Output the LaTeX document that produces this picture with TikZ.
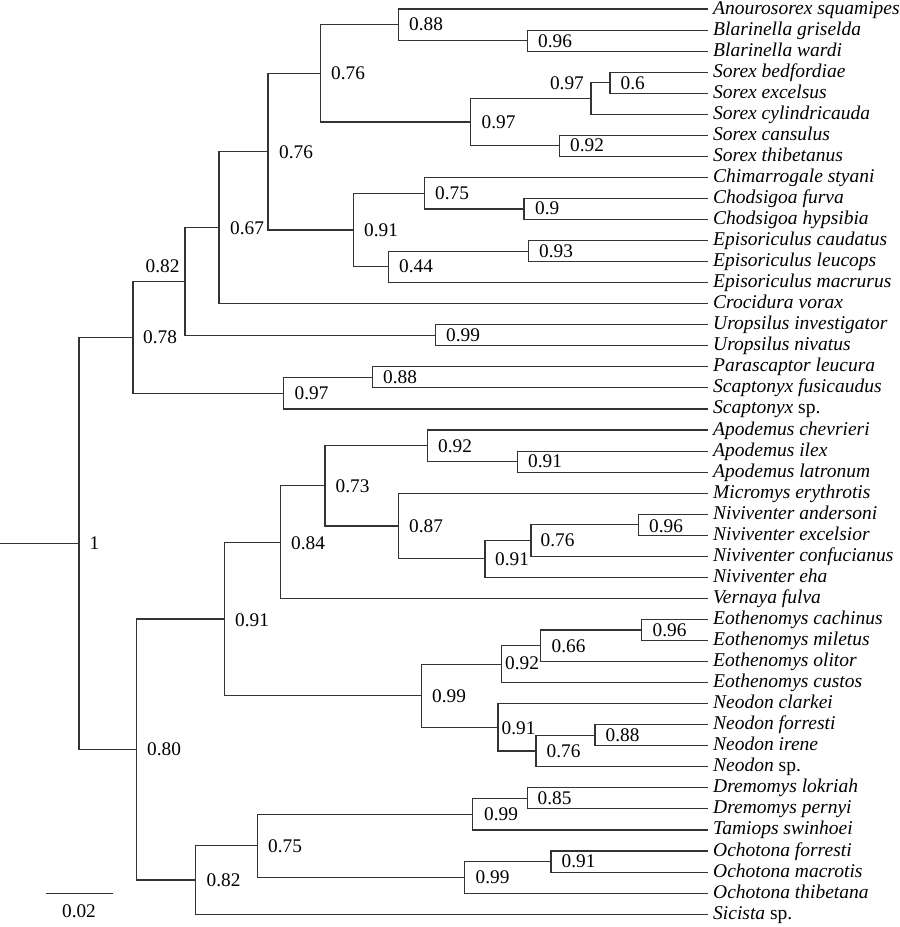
\documentclass[tikz,border=0pt]{standalone}
\usepackage{fontspec}
\setmainfont{Liberation Serif}
\begin{document}
\begin{tikzpicture}[x=1pt,y=-1pt,
  br/.style={line width=1.1pt, draw=black!80},
  lab/.style={anchor=base west, inner sep=0pt, font=\fontsize{19.3}{22}\selectfont},
  leaf/.style={anchor=base west, inner sep=0pt, font=\fontsize{19.5}{22}\selectfont}]
\useasboundingbox (0,0) rectangle (900,927);
% leaves
\foreach \i/\t in {
 0/{\textit{Anourosorex squamipes}},
 1/{\textit{Blarinella griselda}},
 2/{\textit{Blarinella wardi}},
 3/{\textit{Sorex bedfordiae}},
 4/{\textit{Sorex excelsus}},
 5/{\textit{Sorex cylindricauda}},
 6/{\textit{Sorex cansulus}},
 7/{\textit{Sorex thibetanus}},
 8/{\textit{Chimarrogale styani}},
 9/{\textit{Chodsigoa furva}},
 10/{\textit{Chodsigoa hypsibia}},
 11/{\textit{Episoriculus caudatus}},
 12/{\textit{Episoriculus leucops}},
 13/{\textit{Episoriculus macrurus}},
 14/{\textit{Crocidura vorax}},
 15/{\textit{Uropsilus investigator}},
 16/{\textit{Uropsilus nivatus}},
 17/{\textit{Parascaptor leucura}},
 18/{\textit{Scaptonyx fusicaudus}},
 19/{\textit{Scaptonyx} sp.},
 20/{\textit{Apodemus chevrieri}},
 21/{\textit{Apodemus ilex}},
 22/{\textit{Apodemus latronum}},
 23/{\textit{Micromys erythrotis}},
 24/{\textit{Niviventer andersoni}},
 25/{\textit{Niviventer excelsior}},
 26/{\textit{Niviventer confucianus}},
 27/{\textit{Niviventer eha}},
 28/{\textit{Vernaya fulva}},
 29/{\textit{Eothenomys cachinus}},
 30/{\textit{Eothenomys miletus}},
 31/{\textit{Eothenomys olitor}},
 32/{\textit{Eothenomys custos}},
 33/{\textit{Neodon clarkei}},
 34/{\textit{Neodon forresti}},
 35/{\textit{Neodon irene}},
 36/{\textit{Neodon} sp.},
 37/{\textit{Dremomys lokriah}},
 38/{\textit{Dremomys pernyi}},
 39/{\textit{Tamiops swinhoei}},
 40/{\textit{Ochotona forresti}},
 41/{\textit{Ochotona macrotis}},
 42/{\textit{Ochotona thibetana}},
 43/{\textit{Sicista} sp.}}{
  \coordinate (l\i) at (707.7,{9+21.05*\i});
  \node[leaf] (t\i) at (713,{9+21.05*\i+5}) {\t};
}
% internal nodes
\coordinate (stem) at (0,543.4);
\coordinate (root) at (79,543.4);
\coordinate (A) at (133,337.3);
\coordinate (B) at (185,281.5);
\coordinate (C) at (219,227.7);
\coordinate (D) at (268,151.7);
\coordinate (E) at (320.7,73.4);
\coordinate (F) at (398.7,24.8);
\coordinate (G) at (527.7,40.6);
\coordinate (H) at (470.7,122);
\coordinate (I) at (591,98.5);
\coordinate (J) at (610,82.7);
\coordinate (K) at (559.7,145.8);
\coordinate (L) at (353.3,230);
\coordinate (M) at (424.7,193.2);
\coordinate (N) at (524,209);
\coordinate (O) at (388.3,266.9);
\coordinate (P) at (528.7,251.1);
\coordinate (Q) at (435.7,335.3);
\coordinate (R) at (283.7,393.2);
\coordinate (S) at (372.7,377.4);
\coordinate (T) at (136.7,749.5);
\coordinate (U) at (224.3,619);
\coordinate (V) at (280.3,542.2);
\coordinate (W) at (325,485.9);
\coordinate (X) at (427.7,445.8);
\coordinate (Y) at (517.7,461.6);
\coordinate (Z) at (398.7,526);
\coordinate (AA) at (485,558.9);
\coordinate (AB) at (531,540.5);
\coordinate (AC) at (638.7,524.7);
\coordinate (AD) at (421.7,695.8);
\coordinate (AE) at (501.7,664.2);
\coordinate (AF) at (540.7,645.8);
\coordinate (AG) at (641.7,630);
\coordinate (AH) at (498,727.3);
\coordinate (AI) at (536,751);
\coordinate (AJ) at (595,735.2);
\coordinate (AK) at (195.3,880);
\coordinate (AL) at (257.3,845.8);
\coordinate (AM) at (472.7,814.2);
\coordinate (AN) at (527.7,798.4);
\coordinate (AO) at (464.3,877.3);
\coordinate (AP) at (551,861.5);
% branches
\draw[br] (stem) -- (root);
\foreach \p/\c in {root/A, root/T,
  A/B, A/R, B/C, B/Q, C/D, C/l14, D/E, D/L, E/F, E/H,
  F/l0, F/G, G/l1, G/l2, H/I, H/K, I/J, I/l5, J/l3, J/l4, K/l6, K/l7,
  L/M, L/O, M/l8, M/N, N/l9, N/l10, O/P, O/l13, P/l11, P/l12,
  Q/l15, Q/l16, R/S, R/l19, S/l17, S/l18,
  T/U, T/AK, U/V, U/AD, V/W, V/l28, W/X, W/Z, X/l20, X/Y, Y/l21, Y/l22,
  Z/l23, Z/AA, AA/AB, AA/l27, AB/AC, AB/l26, AC/l24, AC/l25,
  AD/AE, AD/AH, AE/AF, AE/l32, AF/AG, AF/l31, AG/l29, AG/l30,
  AH/l33, AH/AI, AI/AJ, AI/l36, AJ/l34, AJ/l35,
  AK/AL, AK/l43, AL/AM, AL/AO, AM/AN, AM/l39, AN/l37, AN/l38,
  AO/AP, AO/l42, AP/l40, AP/l41}{
  \draw[br] (\p) |- (\c);
}
% support values
\node[lab] (broot) at (89.5,549.6) {1};
\node[lab] (bA) at (143,343.5) {0.78};
\node[lab] (bB) at (145.5,272.2) {0.82};
\node[lab] (bC) at (230,234.2) {0.67};
\node[lab] (bD) at (279,158) {0.76};
\node[lab] (bE) at (331,79.5) {0.76};
\node[lab] (bF) at (409,30.6) {0.88};
\node[lab] (bG) at (538,47) {0.96};
\node[lab] (bH) at (481.5,128.2) {0.97};
\node[lab,anchor=base east] (bI) at (584,89) {0.97};
\node[lab] (bJ) at (620.5,89) {0.6};
\node[lab] (bK) at (570,151.5) {0.92};
\node[lab] (bL) at (364,236.2) {0.91};
\node[lab] (bM) at (435,199.2) {0.75};
\node[lab] (bN) at (535,214.5) {0.9};
\node[lab] (bO) at (399,272.5) {0.44};
\node[lab] (bP) at (539,257.3) {0.93};
\node[lab] (bQ) at (446,341.8) {0.99};
\node[lab] (bR) at (294.5,399.4) {0.97};
\node[lab] (bS) at (383,383.6) {0.88};
\node[lab] (bT) at (147,755.5) {0.80};
\node[lab] (bU) at (235,626) {0.91};
\node[lab] (bV) at (291,549) {0.84};
\node[lab] (bW) at (335.5,492.2) {0.73};
\node[lab] (bX) at (438,452) {0.92};
\node[lab] (bY) at (528,467.6) {0.91};
\node[lab] (bZ) at (409,532.3) {0.87};
\node[lab] (bAA) at (495,565.5) {0.91};
\node[lab] (bAB) at (540.5,546.5) {0.76};
\node[lab] (bAC) at (649,532.3) {0.96};
\node[lab] (bAD) at (432,702) {0.99};
\node[lab] (bAE) at (505,669.5) {0.92};
\node[lab] (bAF) at (551.5,652.2) {0.66};
\node[lab] (bAG) at (652.5,636.2) {0.96};
\node[lab] (bAH) at (501.5,734) {0.91};
\node[lab] (bAI) at (546.5,757.2) {0.76};
\node[lab] (bAJ) at (605.5,741.5) {0.88};
\node[lab] (bAK) at (206.5,886.2) {0.82};
\node[lab] (bAL) at (268,852.2) {0.75};
\node[lab] (bAM) at (484,820.4) {0.99};
\node[lab] (bAN) at (537.5,804.6) {0.85};
\node[lab] (bAO) at (475.5,883.5) {0.99};
\node[lab] (bAP) at (561.5,867.6) {0.91};
% scale bar
\coordinate (sb1) at (46,893.3);
\coordinate (sb2) at (112.7,893.3);
\draw[br] (sb1) -- (sb2);
\node[lab,anchor=base] (sblab) at (79,917.5) {0.02};
\end{tikzpicture}
\end{document}
